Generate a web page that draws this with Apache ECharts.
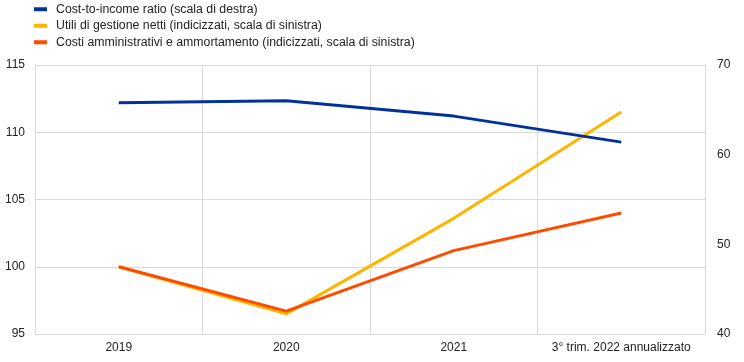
<!DOCTYPE html>
<html>
<head>
<meta charset="utf-8">
<script src="https://cdn.jsdelivr.net/npm/echarts@6/dist/echarts.min.js"></script>
<style>html,body{margin:0;padding:0;background:#fff}#c{width:744px;height:362px}</style>
</head>
<body>
<div id="c"></div>
<script>
const categories = ['2019', '2020', '2021', '3° trim. 2022 annualizzato'];
const costIncome = [65.8, 66.0, 64.3, 61.4];
const utili = [100, 96.5, 103.6, 111.5];
const costi = [100, 96.7, 101.2, 104.0];
const leftTicks = [95, 115, 5];
const rightTicks = [40, 70, 10];
const names = ['Cost-to-income ratio (scala di destra)', 'Utili di gestione netti (indicizzati, scala di sinistra)', 'Costi amministrativi e ammortamento (indicizzati, scala di sinistra)'];

const font = 'Liberation Sans, Arial, sans-serif';
const chart = echarts.init(document.getElementById('c'), null, {renderer: 'canvas'});
chart.setOption({
  animation: false,
  textStyle: {fontFamily: font},
  legend: {
    orient: 'vertical', left: 34, top: 3, itemGap: 4, itemWidth: 13, itemHeight: 4,
    icon: 'rect', padding: 0,
    textStyle: {fontFamily: font, fontSize: 12.3, color: '#222', lineHeight: 12.5, padding: [0, 0, 0, 4]},
    data: names
  },
  grid: {left: 35, right: 39, top: 65, bottom: 28},
  xAxis: {
    type: 'category', data: categories, boundaryGap: true,
    axisLine: {lineStyle: {color: '#d9d9d9'}},
    axisTick: {show: false, interval: 0},
    axisLabel: {color: '#222', fontSize: 12, fontFamily: font, margin: 8, interval: 0},
    splitLine: {show: true, interval: 0, lineStyle: {color: '#d9d9d9'}}
  },
  yAxis: [
    {type: 'value', min: leftTicks[0], max: leftTicks[1], interval: leftTicks[2], position: 'left',
     axisLine: {show: true, lineStyle: {color: '#d9d9d9'}}, axisTick: {show: false},
     axisLabel: {color: '#222', fontSize: 12, fontFamily: font, margin: 10},
     splitLine: {show: true, lineStyle: {color: '#d9d9d9'}}},
    {type: 'value', min: rightTicks[0], max: rightTicks[1], interval: rightTicks[2], position: 'right',
     axisLine: {show: true, lineStyle: {color: '#d9d9d9'}}, axisTick: {show: false},
     axisLabel: {color: '#222', fontSize: 12, fontFamily: font, margin: 12},
     splitLine: {show: false}}
  ],
  series: [
    {name: names[1], type: 'line', yAxisIndex: 0, data: utili, symbol: 'none', lineStyle: {width: 3, color: '#ffb400'}, itemStyle: {color: '#ffb400'}, z: 2},
    {name: names[2], type: 'line', yAxisIndex: 0, data: costi, symbol: 'none', lineStyle: {width: 3, color: '#ff4b00'}, itemStyle: {color: '#ff4b00'}, z: 3},
    {name: names[0], type: 'line', yAxisIndex: 1, data: costIncome, symbol: 'none', lineStyle: {width: 3, color: '#003299'}, itemStyle: {color: '#003299'}, z: 4}
  ]
});
</script>
</body>
</html>
